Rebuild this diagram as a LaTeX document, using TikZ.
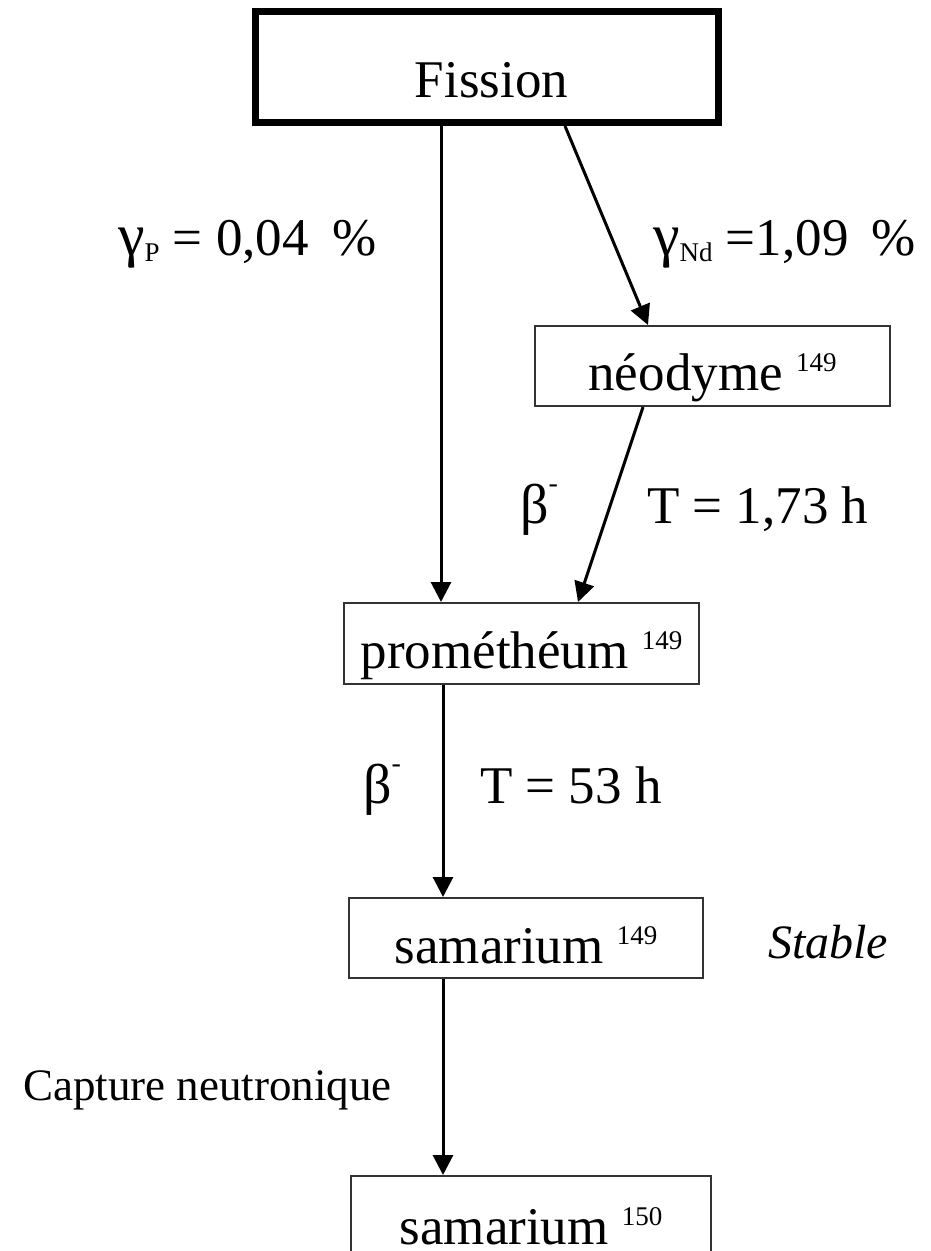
\documentclass[tikz,border=0pt]{standalone}
\usepackage{fontspec}
\setmainfont{Liberation Serif}
\usetikzlibrary{arrows.meta,calc}
\newcommand{\isotope}[1]{\raisebox{19pt}{\fontsize{27}{30}\selectfont #1}}
\newcommand{\lowidx}[1]{\raisebox{-6pt}{\fontsize{27}{30}\selectfont #1}}
\newcommand{\biggamma}{{\fontsize{60}{66}\selectfont γ}}
\newcommand{\betaminus}{{\fontsize{56}{60}\selectfont β}\raisebox{31pt}{\fontsize{28}{30}\selectfont -}}
\begin{document}
\begin{tikzpicture}[x=1pt,y=-1pt,
  big/.style={font=\fontsize{53}{60}\selectfont, inner sep=0pt},
  boxthin/.style={big, draw=black!80, line width=2pt, text depth=0pt, fill=white},
  boxthick/.style={big, draw=black, line width=7pt, text depth=0pt},
  lbl/.style={big, anchor=base west},
  arr/.style={line width=3pt, -{Triangle[length=20pt,width=20pt]}}]
\useasboundingbox (0,0) rectangle (931,1251);
\clip (0,0) rectangle (931,1251);
\fill[white] (0,0) rectangle (931,1251);

% boxes
\node[boxthick, minimum width=463pt, minimum height=111pt, text height=60pt] (fission) at (487,67) {\hspace{9pt}Fission};
\node[boxthin, minimum width=355pt, minimum height=80pt, text height=48pt] (neo) at (712.5,366) {néodyme \isotope{149}};
\node[boxthin, minimum width=355pt, minimum height=81pt, text height=49pt] (prom) at (521.5,643.5) {prométhéum \isotope{149}};
\node[boxthin, minimum width=354pt, minimum height=80pt, text height=50pt] (sm149) at (526,938) {samarium \isotope{149}};
\node[boxthin, minimum width=360pt, minimum height=88pt, text height=48pt] (sm150) at (531,1220) {samarium \isotope{150}};

% x positions of connectors
\coordinate (xa) at (441,0);
\coordinate (xb) at (565,0);
\coordinate (xc) at (648,0);
\coordinate (xd) at (643,0);
\coordinate (xe) at (578,0);
\coordinate (xf) at (443,0);

\draw[arr] (fission.south -| xa) -- (prom.north -| xa);
\draw[arr] (fission.south -| xb) -- (neo.north -| xc);
\draw[arr] (neo.south -| xd) -- (prom.north -| xe);
\draw[arr] (prom.south -| xf) -- (sm149.north -| xf);
\draw[arr] (sm149.south -| xf) -- (sm150.north -| xf);

% labels
\node[lbl] (gp) at (118,255) {\biggamma\lowidx{P} = 0,04 \hspace{10pt}\%};
\node[lbl] (gnd) at (653,255) {\biggamma\lowidx{Nd} =1,09 \hspace{10pt}\%};
\node[lbl] (b1) at (520,523) {\betaminus};
\node[lbl] (t1) at (647,523) {T = 1,73 h};
\node[lbl] (b2) at (363,803) {\betaminus};
\node[lbl] (t2) at (480,803) {T = 53 h};
\node[lbl, font=\fontsize{48}{54}\selectfont\itshape] (stable) at (768,958) {Stable};
\node[lbl, font=\fontsize{45}{50}\selectfont] (capt) at (23,1100) {Capture neutronique};
\end{tikzpicture}
\end{document}
